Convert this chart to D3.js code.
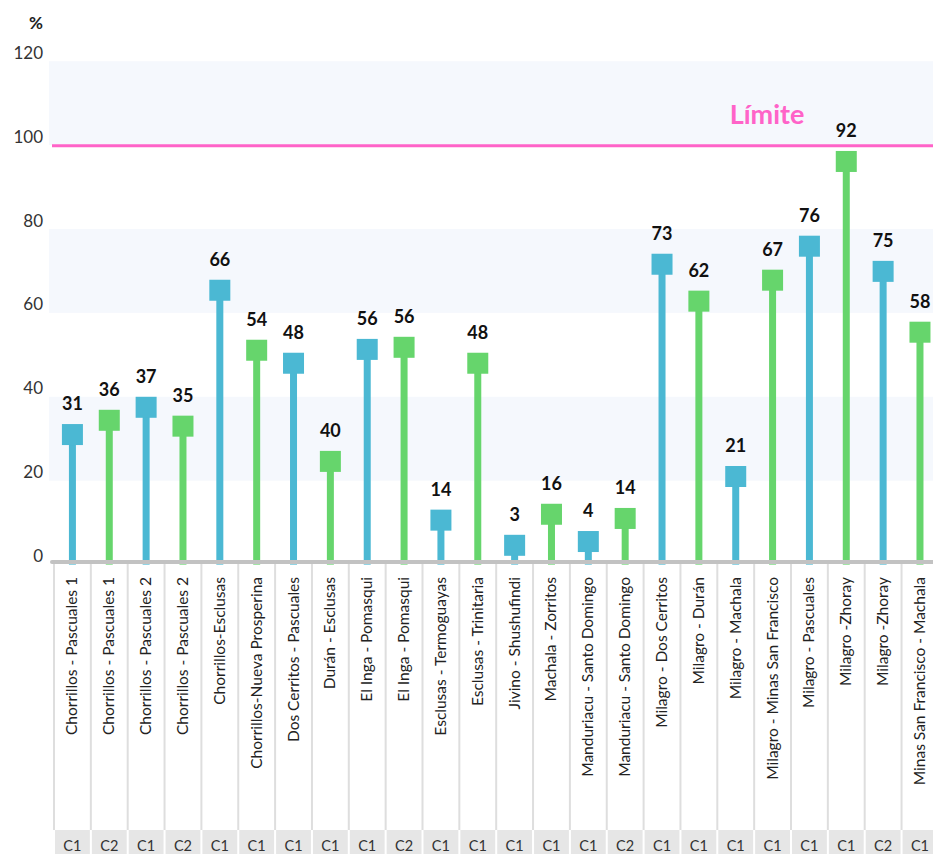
<!DOCTYPE html>
<html>
<head>
<meta charset="utf-8">
<script src="https://cdn.jsdelivr.net/npm/d3@7"></script>
<style>
  html, body { margin: 0; padding: 0; background: #fff; }
  svg { display: block; font-family: Lato, "Open Sans", sans-serif; }
</style>
</head>
<body>
<svg id="chart" width="933" height="854"></svg>
<script>
// ---- data ----
const categories = [
  "Chorrillos - Pascuales 1", "Chorrillos - Pascuales 1", "Chorrillos - Pascuales 2", "Chorrillos - Pascuales 2",
  "Chorrillos-Esclusas", "Chorrillos-Nueva Prosperina", "Dos Cerritos - Pascuales", "Durán - Esclusas",
  "El Inga - Pomasqui", "El Inga - Pomasqui", "Esclusas - Termoguayas", "Esclusas - Trinitaria",
  "Jivino - Shushufindi", "Machala - Zorritos", "Manduriacu - Santo Domingo", "Manduriacu - Santo Domingo",
  "Milagro - Dos Cerritos", "Milagro - Durán", "Milagro - Machala", "Milagro - Minas San Francisco",
  "Milagro - Pascuales", "Milagro -Zhoray", "Milagro -Zhoray", "Minas San Francisco - Machala"
];
const circuits = ["C1","C2","C1","C2","C1","C1","C1","C1","C1","C2","C1","C1",
                  "C1","C1","C1","C2","C1","C1","C1","C1","C1","C1","C2","C1"];
// bar (marker) heights as drawn, in %
const values = [31, 34.4, 37.5, 33, 65.4, 51.1, 48, 24.6, 51.3, 51.8, 10.6, 48,
                4.6, 12, 5.5, 11, 71.6, 62.8, 21, 67.8, 75.9, 96.1, 69.9, 55.4];
// value labels printed above the markers
const labels = [31, 36, 37, 35, 66, 54, 48, 40, 56, 56, 14, 48,
                3, 16, 4, 14, 73, 62, 21, 67, 76, 92, 75, 58];
const seriesColors = ["#4bb8d3", "#66d56c"];
const yTicks = [0, 20, 40, 60, 80, 100, 120];
const bands = [[20, 40], [60, 80], [100, 120]];
const limitValue = 100;
const limitLabel = "Límite";
const yUnit = "%";

// ---- chart ----
const svg = d3.select("#chart");
const W = 933;
const colW = 36.85;
const x0 = 54;
const x = d3.scaleBand().domain(d3.range(categories.length))
  .range([x0, x0 + colW * categories.length]).paddingInner(0).paddingOuter(0);
const y = d3.scaleLinear().domain([0, 120]).range([564.6, 61.2]);
const color = i => seriesColors[i % 2];

// background bands
svg.append("g").selectAll("rect").data(bands).join("rect")
  .attr("x", 49).attr("width", W - 49)
  .attr("y", d => y(d[1])).attr("height", d => y(d[0]) - y(d[1]))
  .attr("fill", "#f5f8fd");

// y tick labels
svg.append("g").selectAll("text").data(yTicks).join("text")
  .attr("x", 43).attr("y", d => y(d) - 9)
  .attr("text-anchor", "end").attr("dominant-baseline", "central")
  .attr("font-size", 17).attr("fill", "#333")
  .text(d => d);

svg.append("text").attr("x", 43).attr("y", 29).attr("text-anchor", "end")
  .attr("font-size", 17).attr("font-weight", "bold").attr("fill", "#222").text(yUnit);

// limit line
svg.append("line").attr("x1", 52).attr("x2", W)
  .attr("y1", y(limitValue) + 0.6).attr("y2", y(limitValue) + 0.6)
  .attr("stroke", "#ff63c8").attr("stroke-width", 3);
svg.append("text").attr("x", 767).attr("y", 124).attr("text-anchor", "middle")
  .attr("font-size", 27).attr("font-weight", "bold").attr("fill", "#ff63c8")
  .text(limitLabel);

// column separators
const idx = d3.range(categories.length);
svg.append("g").selectAll("line").data(d3.range(categories.length + 1)).join("line")
  .attr("x1", i => x0 + i * colW).attr("x2", i => x0 + i * colW)
  .attr("y1", 564).attr("y2", 830)
  .attr("stroke", "#dedede").attr("stroke-width", 2);

// category labels
svg.append("g").selectAll("text").data(idx).join("text")
  .attr("transform", i => `translate(${x(i) + x.bandwidth() / 2 - 1},577) rotate(-90)`)
  .attr("text-anchor", "end").attr("dominant-baseline", "central")
  .attr("font-size", 15.5).attr("fill", "#222")
  .text(i => categories[i]);

// circuit cells
const cells = svg.append("g");
cells.selectAll("rect").data(idx).join("rect")
  .attr("x", i => x(i) + 1).attr("width", x.bandwidth() - 2)
  .attr("y", 830).attr("height", 30).attr("fill", "#e6e6e6");
cells.selectAll("text").data(idx).join("text")
  .attr("x", i => x(i) + x.bandwidth() / 2).attr("y", 845)
  .attr("text-anchor", "middle").attr("dominant-baseline", "central")
  .attr("font-size", 14.5).attr("fill", "#333")
  .text(i => circuits[i]);

// stems
svg.append("g").selectAll("rect").data(idx).join("rect")
  .attr("x", i => x(i) + x.bandwidth() / 2 - 3.5).attr("width", 7)
  .attr("y", i => y(values[i])).attr("height", i => y(0) - y(values[i]))
  .attr("fill", i => color(i));

// axis line
svg.append("line").attr("x1", 52).attr("x2", W + 5).attr("y1", 562).attr("y2", 562)
  .attr("stroke", "#c2c2c2").attr("stroke-width", 4).attr("stroke-linecap", "round");

// markers
svg.append("g").selectAll("rect").data(idx).join("rect")
  .attr("x", i => x(i) + x.bandwidth() / 2 - 10.5).attr("width", 21)
  .attr("y", i => y(values[i]) - 10.5).attr("height", 21)
  .attr("fill", i => color(i));

// value labels
svg.append("g").selectAll("text").data(idx).join("text")
  .attr("x", i => x(i) + x.bandwidth() / 2).attr("y", i => y(values[i]) - 10.5 - 14)
  .attr("text-anchor", "middle")
  .attr("font-size", 18).attr("font-weight", "bold").attr("fill", "#111")
  .text(i => labels[i]);
</script>
</body>
</html>
